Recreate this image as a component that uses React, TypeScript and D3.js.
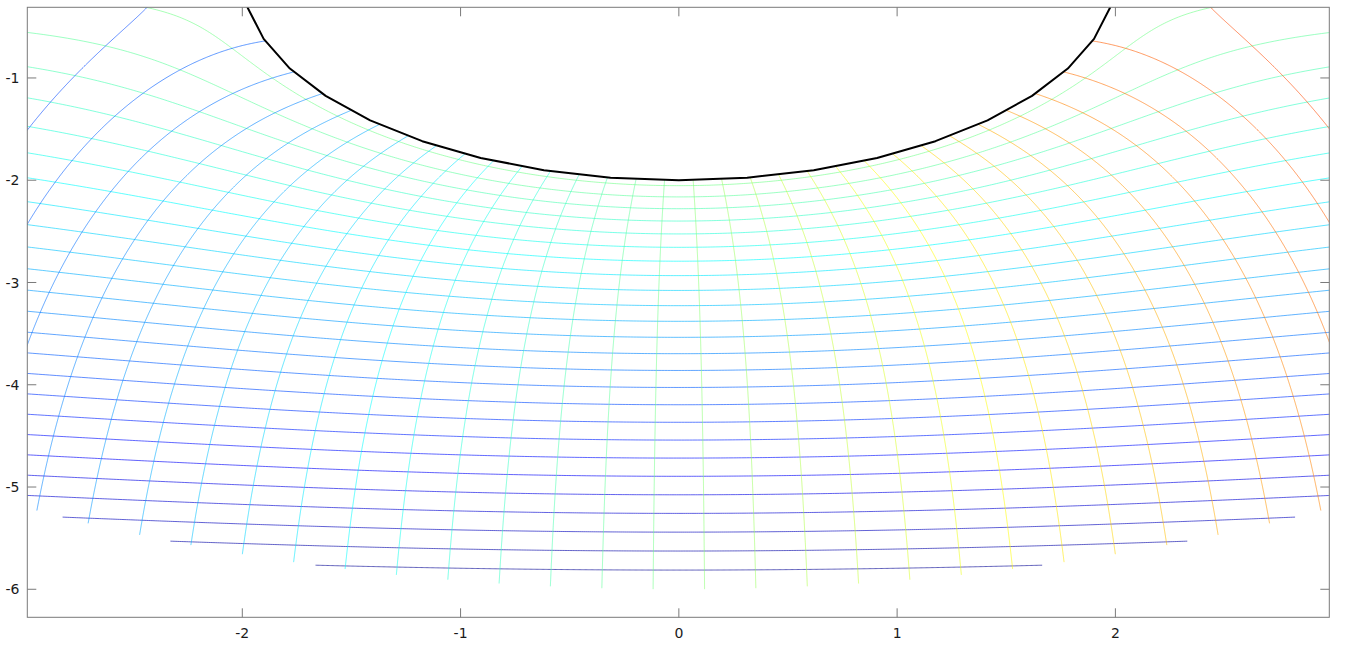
import React from "react";
import * as d3 from "d3";

// Contour levels of the velocity potential (near-vertical curves)
const PHI_LEVELS = [
  -4.314, -4.052, -3.791, -3.529, -3.268, -3.007, -2.745, -2.484, -2.222, -1.961, -1.699, -1.438, -1.176, -0.915, -0.654, -0.392, -0.131,
  0.131, 0.392, 0.654, 0.915, 1.176, 1.438, 1.699, 1.961, 2.222, 2.484, 2.745, 3.007, 3.268, 3.529, 3.791, 4.052, 4.314,
];
// Contour levels of the stream function (near-horizontal curves)
const PSI_LEVELS = [
  -0.105, -0.314, -0.523, -0.732, -0.941, -1.150, -1.359, -1.569, -1.778, -1.987,
  -2.196, -2.405, -2.614, -2.824, -3.033, -3.242, -3.451, -3.660, -3.869, -4.078,
  -4.288, -4.497, -4.706, -4.915, -5.124,
];
const CYLINDER_RADIUS = 2;
const OUTER_RADIUS = 6;
const CYLINDER_SEGMENTS = 40;
const PHI_COLOR_LIMITS = [-6.667, 6.667];
const PSI_COLOR_LIMITS = [-5.333, 5.333];
const X_TICKS = [-2, -1, 0, 1, 2];
const Y_TICKS = [-1, -2, -3, -4, -5, -6];
const X_DOMAIN = [-2.985, 2.98];
const Y_DOMAIN = [-6.274, -0.309];

const W = 1347;
const H = 647;
const M = { left: 27.3, right: 1329.3, top: 7.3, bottom: 617.3 };

function jet(t: number): string {
  const c = (v: number) => Math.max(0, Math.min(1, v));
  const r = c(Math.min(4 * t - 1.5, -4 * t + 4.5));
  const g = c(Math.min(4 * t - 0.5, -4 * t + 3.5));
  const b = c(Math.min(4 * t + 0.5, -4 * t + 2.5));
  return d3.rgb(r * 255, g * 255, b * 255).formatHex();
}

const a2 = CYLINDER_RADIUS * CYLINDER_RADIUS;

function psiCurve(c: number): [number, number][] {
  const kMax = OUTER_RADIUS - a2 / OUTER_RADIUS;
  if (Math.abs(c) > kMax) return [];
  const d = Math.asin(Math.abs(c) / kMax);
  const t0 = Math.PI + d;
  const t1 = 2 * Math.PI - d;
  const n = 600;
  const pts: [number, number][] = [];
  for (let i = 0; i <= n; i++) {
    const th = t0 + ((t1 - t0) * i) / n;
    const s = Math.sin(th);
    const k = Math.abs(s) < 1e-12 ? kMax : c / s;
    const r = Math.min(OUTER_RADIUS, (k + Math.sqrt(k * k + 4 * a2)) / 2);
    pts.push([r * Math.cos(th), r * Math.sin(th)]);
  }
  return pts;
}

function phiCurve(c: number): [number, number][] {
  const ac = Math.abs(c);
  const kMin = 2 * CYLINDER_RADIUS;
  const r0 = ac <= kMin ? CYLINDER_RADIUS : (ac + Math.sqrt(ac * ac - 4 * a2)) / 2;
  const n = 600;
  const pts: [number, number][] = [];
  for (let i = 0; i <= n; i++) {
    const u = i / n;
    const r = r0 + (OUTER_RADIUS - r0) * u;
    const k = r + a2 / r;
    const cs = Math.max(-1, Math.min(1, c / k));
    const sn = Math.sqrt(1 - cs * cs);
    pts.push([r * cs, -r * sn]);
  }
  return pts;
}

export default function App() {
  const x = d3.scaleLinear().domain(X_DOMAIN).range([M.left, M.right]);
  const y = d3.scaleLinear().domain(Y_DOMAIN).range([M.bottom, M.top]);
  const phiColor = (v: number) => jet((v - PHI_COLOR_LIMITS[0]) / (PHI_COLOR_LIMITS[1] - PHI_COLOR_LIMITS[0]));
  const psiColor = (v: number) => jet((v - PSI_COLOR_LIMITS[0]) / (PSI_COLOR_LIMITS[1] - PSI_COLOR_LIMITS[0]));
  const line = d3
    .line<[number, number]>()
    .x((d) => x(d[0]))
    .y((d) => y(d[1]));

  const cyl: [number, number][] = d3.range(0, CYLINDER_SEGMENTS / 2 + 1).map((i) => {
    const th = Math.PI + (2 * Math.PI * i) / CYLINDER_SEGMENTS;
    return [CYLINDER_RADIUS * Math.cos(th), CYLINDER_RADIUS * Math.sin(th)];
  });

  const axisColor = "#7a7a7a";
  const tickLen = 9;

  return (
    <svg
      width={W}
      height={H}
      style={{ position: "absolute", left: 0, top: 0, background: "#fff" }}
      fontFamily="DejaVu Sans, sans-serif"
    >
      <defs>
        <clipPath id="plotclip">
          <rect x={M.left} y={M.top} width={M.right - M.left} height={M.bottom - M.top} />
        </clipPath>
      </defs>
      <g clipPath="url(#plotclip)" fill="none">
        {PSI_LEVELS.map((c, i) => (
          <path key={"psi" + i} d={line(psiCurve(c)) || ""} stroke={psiColor(c)} strokeWidth={1} strokeOpacity={0.62} />
        ))}
        {PHI_LEVELS.map((c, i) => (
          <path key={"phi" + i} d={line(phiCurve(c)) || ""} stroke={phiColor(c)} strokeWidth={1} strokeOpacity={0.62} />
        ))}
        <path d={line(cyl) || ""} stroke="#000" strokeWidth={2} strokeLinejoin="round" />
      </g>
      <rect
        x={M.left}
        y={M.top}
        width={M.right - M.left}
        height={M.bottom - M.top}
        fill="none"
        stroke={axisColor}
        strokeWidth={1}
      />
      {X_TICKS.map((t) => (
        <g key={"xt" + t}>
          <line x1={x(t)} x2={x(t)} y1={M.bottom} y2={M.bottom - tickLen} stroke={axisColor} />
          <line x1={x(t)} x2={x(t)} y1={M.top} y2={M.top + tickLen} stroke={axisColor} />
          <text x={x(t)} y={638} fontSize={14} textAnchor="middle" fill="#1a1a1a">
            {String(t)}
          </text>
        </g>
      ))}
      {Y_TICKS.map((t) => (
        <g key={"yt" + t}>
          <line x1={M.left} x2={M.left + tickLen} y1={y(t)} y2={y(t)} stroke={axisColor} />
          <line x1={M.right} x2={M.right - tickLen} y1={y(t)} y2={y(t)} stroke={axisColor} />
          <text x={19.5} y={y(t)} dy="0.36em" fontSize={14} textAnchor="end" fill="#1a1a1a">
            {String(t)}
          </text>
        </g>
      ))}
    </svg>
  );
}
